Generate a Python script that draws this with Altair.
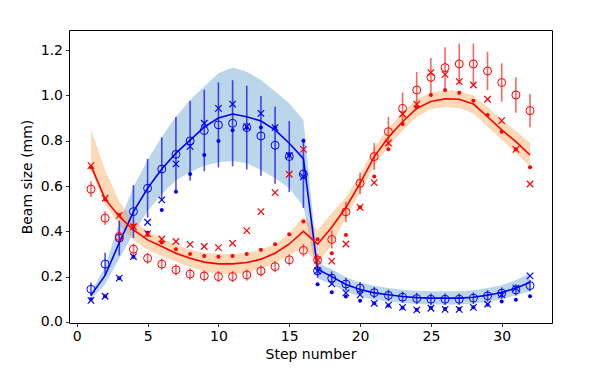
import altair as alt
import pandas as pd

steps = list(range(1, 33))

blue_fit = [0.117, 0.205, 0.35, 0.487, 0.59, 0.675, 0.745, 0.803, 0.86, 0.90, 0.918, 0.906,
            0.887, 0.848, 0.789, 0.721, 0.232, 0.2, 0.165, 0.143, 0.128, 0.12, 0.112, 0.107,
            0.105, 0.105, 0.105, 0.109, 0.118, 0.13, 0.149, 0.175]
blue_hi = [0.13, 0.245, 0.44, 0.597, 0.715, 0.818, 0.906, 0.98, 1.039, 1.098, 1.123, 1.105,
           1.068, 1.017, 0.966, 0.892, 0.262, 0.232, 0.197, 0.174, 0.159, 0.15, 0.142, 0.137,
           0.135, 0.135, 0.135, 0.14, 0.15, 0.162, 0.185, 0.215]
blue_lo = [0.10, 0.165, 0.28, 0.39, 0.49, 0.565, 0.625, 0.662, 0.69, 0.705, 0.711, 0.70,
           0.671, 0.634, 0.59, 0.509, 0.192, 0.166, 0.133, 0.113, 0.098, 0.09, 0.083, 0.079,
           0.077, 0.077, 0.077, 0.08, 0.088, 0.1, 0.116, 0.135]

red_fit = [0.69, 0.542, 0.465, 0.406, 0.362, 0.333, 0.303, 0.281, 0.264, 0.256, 0.256, 0.262,
           0.277, 0.303, 0.344, 0.40, 0.343, 0.418, 0.505, 0.612, 0.73, 0.815, 0.884, 0.943,
           0.973, 0.985, 0.983, 0.962, 0.906, 0.848, 0.796, 0.737]
red_hi = [0.848, 0.67, 0.531, 0.45, 0.399, 0.369, 0.34, 0.318, 0.305, 0.30, 0.30, 0.305,
          0.318, 0.343, 0.39, 0.465, 0.406, 0.48, 0.55, 0.652, 0.77, 0.855, 0.925, 0.983,
          1.012, 1.022, 1.02, 1.0, 0.948, 0.89, 0.843, 0.79]
red_lo = [0.67, 0.52, 0.428, 0.362, 0.318, 0.29, 0.265, 0.242, 0.222, 0.212, 0.212, 0.218,
          0.235, 0.26, 0.295, 0.325, 0.259, 0.34, 0.46, 0.57, 0.69, 0.775, 0.845, 0.905,
          0.94, 0.948, 0.945, 0.92, 0.862, 0.805, 0.745, 0.686]

blue_circ = [0.144, 0.255, 0.37, 0.487, 0.59, 0.675, 0.74, 0.799, 0.845, 0.87, 0.877, 0.858,
             0.821, 0.78, 0.73, 0.653, 0.225, 0.193, 0.167, 0.149, 0.129, 0.117, 0.109, 0.103,
             0.10, 0.10, 0.10, 0.105, 0.115, 0.127, 0.141, 0.16]
blue_err = [0.03, 0.05, 0.077, 0.117, 0.13, 0.14, 0.165, 0.176, 0.18, 0.188, 0.19, 0.185,
            0.176, 0.17, 0.157, 0.15, 0.03, 0.03, 0.028, 0.027, 0.025, 0.025, 0.025, 0.025,
            0.025, 0.025, 0.025, 0.025, 0.025, 0.025, 0.025, 0.025]
blue_dot = [0.100, 0.113, 0.193, 0.288, 0.394, 0.494, 0.575, 0.653, 0.737, 0.799, 0.846, 0.857,
            0.858, 0.858, 0.737, 0.80, 0.166, 0.131, 0.112, 0.093, 0.082, 0.072, 0.062, 0.054,
            0.062, 0.057, 0.057, 0.065, 0.076, 0.09, 0.098, 0.113]
blue_x = [0.095, 0.113, 0.193, 0.288, 0.44, 0.539, 0.698, 0.775, 0.877, 0.943, 0.962, 0.862,
          0.921, 0.858, 0.735, 0.641, 0.225, 0.168, 0.128, 0.119, 0.082, 0.074, 0.064, 0.053,
          0.06, 0.055, 0.055, 0.064, 0.078, 0.12, 0.149, 0.203]

red_circ = [0.586, 0.458, 0.377, 0.321, 0.281, 0.255, 0.23, 0.211, 0.203, 0.2, 0.2, 0.207,
            0.225, 0.244, 0.274, 0.316, 0.272, 0.364, 0.486, 0.612, 0.73, 0.84, 0.943, 1.024,
            1.08, 1.123, 1.139, 1.139, 1.108, 1.057, 1.002, 0.933]
red_err = [0.035, 0.03, 0.025, 0.025, 0.025, 0.025, 0.025, 0.025, 0.025, 0.025, 0.025, 0.025,
           0.025, 0.025, 0.025, 0.028, 0.028, 0.04, 0.045, 0.048, 0.06, 0.066, 0.07, 0.08,
           0.085, 0.09, 0.09, 0.09, 0.085, 0.085, 0.078, 0.073]
red_dot = [0.683, 0.542, 0.472, 0.424, 0.384, 0.35, 0.321, 0.3, 0.291, 0.288, 0.291, 0.3,
           0.318, 0.343, 0.387, 0.443, 0.365, 0.303, 0.384, 0.506, 0.642, 0.762, 0.874, 0.948,
           1.002, 1.024, 1.012, 0.977, 0.914, 0.84, 0.762, 0.683]
red_x = [0.69, 0.546, 0.47, 0.42, 0.39, 0.366, 0.355, 0.342, 0.333, 0.328, 0.347, 0.403,
         0.487, 0.571, 0.652, 0.762, 0.274, 0.268, 0.344, 0.506, 0.615, 0.79, 0.918, 0.962,
         1.101, 1.093, 1.061, 1.046, 0.983, 0.889, 0.762, 0.609]

x_ticks = [0, 5, 10, 15, 20, 25, 30]
y_ticks = [0.0, 0.2, 0.4, 0.6, 0.8, 1.0, 1.2]

df = pd.DataFrame({
    "step": steps,
    "blue_fit": blue_fit, "blue_hi": blue_hi, "blue_lo": blue_lo,
    "red_fit": red_fit, "red_hi": red_hi, "red_lo": red_lo,
    "blue_circ": blue_circ, "blue_top": [v + e for v, e in zip(blue_circ, blue_err)],
    "blue_bot": [v - e for v, e in zip(blue_circ, blue_err)],
    "blue_dot": blue_dot, "blue_x": blue_x,
    "red_circ": red_circ, "red_top": [v + e for v, e in zip(red_circ, red_err)],
    "red_bot": [v - e for v, e in zip(red_circ, red_err)],
    "red_dot": red_dot, "red_x": red_x,
})

FONT = "DejaVu Sans"
X = alt.X("step:Q",
          scale=alt.Scale(domain=[-0.55, 33.55], nice=False, zero=False),
          axis=alt.Axis(title="Step number", values=x_ticks, format="d", grid=False,
                        domain=False, tickColor="black", tickSize=3.5, tickWidth=0.8,
                        labelColor="black", labelFont=FONT, labelFontSize=14,
                        labelPadding=3, titleFont=FONT, titleFontSize=14,
                        titleFontWeight="normal", titleColor="black", titlePadding=4))
YSCALE = alt.Scale(domain=[-0.005, 1.289], nice=False, zero=False)
YAXIS = alt.Axis(title="Beam size (mm)", values=y_ticks, format=".1f", grid=False,
                 domain=False, tickColor="black", tickSize=3.5, tickWidth=0.8,
                 labelColor="black", labelFont=FONT, labelFontSize=14, labelPadding=3,
                 titleFont=FONT, titleFontSize=14, titleFontWeight="normal",
                 titleColor="black", titlePadding=6)

def y(field):
    return alt.Y(f"{field}:Q", scale=YSCALE, axis=YAXIS, title="Beam size (mm)")

base = alt.Chart(df)
XSHAPE = "M-1,-1L1,1M-1,1L1,-1"

blue_band = base.mark_area(color="#1f77b4", opacity=0.3).encode(
    x=X, y=y("blue_lo"), y2="blue_hi:Q")
red_band = base.mark_area(color="#ff7f0e", opacity=0.3).encode(
    x=X, y=y("red_lo"), y2="red_hi:Q")
blue_line = base.mark_line(color="blue", strokeWidth=1.6).encode(x=X, y=y("blue_fit"))
red_line = base.mark_line(color="red", strokeWidth=1.6).encode(x=X, y=y("red_fit"))

blue_bar = base.mark_rule(color="blue", opacity=0.7, strokeWidth=1.6).encode(
    x=X, y=y("blue_bot"), y2="blue_top:Q")
blue_c = base.mark_point(shape="circle", filled=False, color="blue", size=64,
                         strokeWidth=1, opacity=1).encode(x=X, y=y("blue_circ"))
blue_d = base.mark_point(shape="circle", filled=True, color="blue", size=16,
                         opacity=1).encode(x=X, y=y("blue_dot"))
blue_xm = base.mark_point(shape=XSHAPE, filled=False, color="blue", size=42,
                          strokeWidth=1.2, opacity=1).encode(x=X, y=y("blue_x"))

red_bar = base.mark_rule(color="red", opacity=0.6, strokeWidth=1.6).encode(
    x=X, y=y("red_bot"), y2="red_top:Q")
red_c = base.mark_point(shape="circle", filled=False, color="red", size=64,
                        strokeWidth=1, opacity=1).encode(x=X, y=y("red_circ"))
red_d = base.mark_point(shape="circle", filled=True, color="red", size=16,
                        opacity=1).encode(x=X, y=y("red_dot"))
red_xm = base.mark_point(shape=XSHAPE, filled=False, color="red", size=42,
                         strokeWidth=1.2, opacity=1).encode(x=X, y=y("red_x"))

chart = alt.layer(
    blue_band, red_band, blue_line, red_line,
    blue_bar, blue_c, blue_d, blue_xm,
    red_bar, red_c, red_d, red_xm,
).properties(
    width=483, height=293,
    autosize=alt.AutoSizeParams(type="none"),
    padding={"left": 61, "top": 22, "right": 30, "bottom": 42},
    background="white",
).configure_view(stroke="black", strokeWidth=1)

chart.save("out.html", embed_options={"renderer": "svg", "actions": False})
